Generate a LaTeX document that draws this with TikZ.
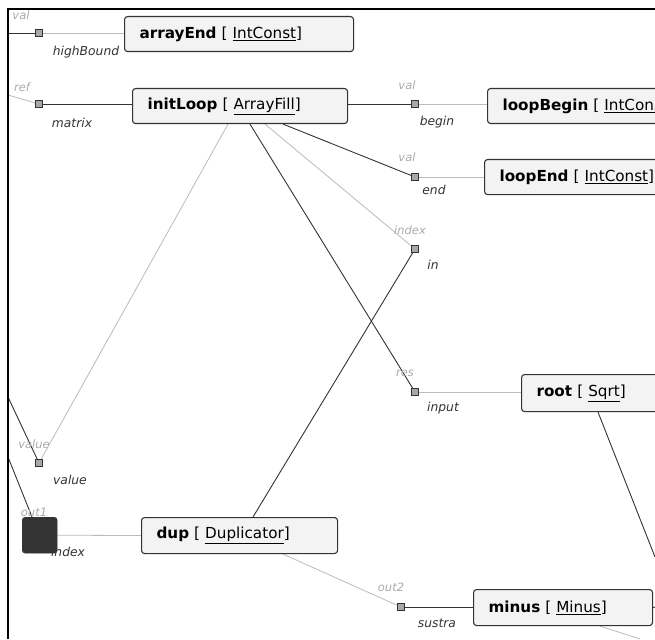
\documentclass[tikz,border=0pt]{standalone}
\usepackage{fontspec}
\setmainfont{DejaVu Sans}
\usetikzlibrary{calc}
\definecolor{dk}{HTML}{333333}
\definecolor{lt}{HTML}{BBBBBB}
\definecolor{boxfill}{HTML}{F3F3F3}
\definecolor{portfill}{HTML}{A8A8A8}
\definecolor{glab}{HTML}{AAAAAA}
\pgfdeclarelayer{bg}
\pgfsetlayers{bg,main}
\begin{document}
\begin{tikzpicture}[x=1pt,y=-1pt,
 opbox/.style={draw=dk, line width=1.1pt, fill=boxfill, rounded corners=3pt, anchor=north west, minimum height=35pt, inner xsep=15pt, inner ysep=0pt, text width=#1, align=left, font=\fontsize{15.2}{17}\selectfont},
 port/.style={draw=dk, fill=portfill, minimum size=7pt, inner sep=0pt, line width=0.8pt},
 dkline/.style={draw=dk, line width=0.9pt},
 ltline/.style={draw=lt, line width=0.8pt},
 glabel/.style={text=glab, font=\fontsize{11.5}{12}\selectfont\itshape, inner sep=0pt},
 plabel/.style={text=dk, font=\fontsize{12.3}{13}\selectfont\itshape, inner sep=0pt}]
\useasboundingbox (0,0) rectangle (655,639);
\clip (0,0) rectangle (655,639);

% boxes
\node[opbox=199pt] (arrayEnd) at (124,16) {{\bfseries arrayEnd} [ \underline{IntConst}]};
\node[opbox=185pt] (initLoop) at (132,88) {{\bfseries initLoop} [ \underline{ArrayFill}]};
\node[opbox=220pt] (loopBegin) at (487,88) {{\bfseries loopBegin} [ \underline{IntConst}]};
\node[opbox=220pt] (loopEnd) at (484,159) {{\bfseries loopEnd} [ \underline{IntConst}]};
\node[opbox=200pt, minimum height=37pt] (root) at (521,374) {{\bfseries root} [ \underline{Sqrt}]};
\node[opbox=166pt, minimum height=36pt] (dup) at (141,517) {{\bfseries dup} [ \underline{Duplicator}]};
\node[opbox=149pt, minimum height=36pt] (minus) at (473,589) {{\bfseries minus} [ \underline{Minus}]};

% ports
\node[port] (pHB) at (39,33) {};
\node[port] (pMatrix) at (39,104) {};
\node[port] (pBegin) at (415,104) {};
\node[port] (pEnd) at (415,177) {};
\node[port] (pIn) at (415,249) {};
\node[port] (pInput) at (415,392) {};
\node[port] (pValue) at (39,463) {};
\node[port] (pSustra) at (401,607) {};

% labels
\node[glabel] (lVal1) at (21,15) {val};
\node[plabel] (lHB) at (86,52) {highBound};
\node[glabel] (lRef1) at (22,87) {ref};
\node[plabel] (lMatrix) at (72,123) {matrix};
\node[glabel] (lVal2) at (407,85) {val};
\node[plabel] (lBegin) at (437,122) {begin};
\node[glabel] (lVal3) at (407,157) {val};
\node[plabel] (lEnd) at (434,190) {end};
\node[glabel] (lIndex1) at (410,230) {index};
\node[plabel] (lIn) at (433,265) {in};
\node[glabel] (lRes) at (405,373) {res};
\node[plabel] (lInput) at (443,408) {input};
\node[glabel] (lValue1) at (34,444) {value};
\node[plabel] (lValue2) at (70,480) {value};
\node[glabel] (lOut1) at (34,512) {out1};
\node[plabel] (lIndex2) at (68,552) {index};
\node[glabel] (lOut2) at (391,587) {out2};
\node[plabel] (lSustra) at (437,623) {sustra};

% dark square
\node[draw=dk, fill=dk, rounded corners=3pt, minimum width=35pt, minimum height=36pt, inner sep=0pt, anchor=north west] (sq) at (22,517) {};

% free ends
\coordinate (e1) at (8,33);
\coordinate (e2) at (8,95);
\coordinate (e3) at (8,397);
\coordinate (e4) at (8,457);
\coordinate (e5) at (655,557);
\coordinate (e6) at (655,607);
\coordinate (e7) at (640,639);

\begin{pgfonlayer}{bg}
\draw[dkline] (e1) -- (pHB);
\draw[ltline] (pHB) -- (pHB -| arrayEnd.west);
\draw[ltline] (e2) -- (pMatrix);
\draw[dkline] (pMatrix) -- (pMatrix -| initLoop.west);
\draw[dkline] (pBegin -| initLoop.east) -- (pBegin);
\draw[ltline] (pBegin) -- (pBegin -| loopBegin.west);
\draw[dkline] ($(initLoop.south west)+(151,0)$) -- (pEnd);
\draw[ltline] (pEnd) -- (pEnd -| loopEnd.west);
\draw[ltline] ($(initLoop.south west)+(133,0)$) -- (pIn);
\draw[dkline] (pIn) -- ($(dup.north west)+(112,0)$);
\draw[dkline] ($(initLoop.south west)+(118,0)$) -- (pInput);
\draw[ltline] (pInput) -- (pInput -| root.west);
\draw[ltline] ($(initLoop.south west)+(96,0)$) -- (pValue);
\draw[dkline] (e3) -- (pValue);
\draw[dkline] (e4) -- ($(sq.north west)+(10,0)$);
\draw[ltline] (sq.east) -- (dup.west);
\draw[ltline] ($(dup.south west)+(142,0)$) -- (pSustra);
\draw[dkline] (pSustra) -- (pSustra -| minus.west);
\draw[dkline] ($(root.south west)+(77,0)$) -- (e5);
\draw[dkline] (minus.east) -- (e6);
\draw[ltline] ($(minus.south west)+(127,0)$) -- (e7);
\end{pgfonlayer}

% frame
\draw[black, line width=2pt] (8,639) -- (8,9) -- (655,9);
\end{tikzpicture}
\end{document}
